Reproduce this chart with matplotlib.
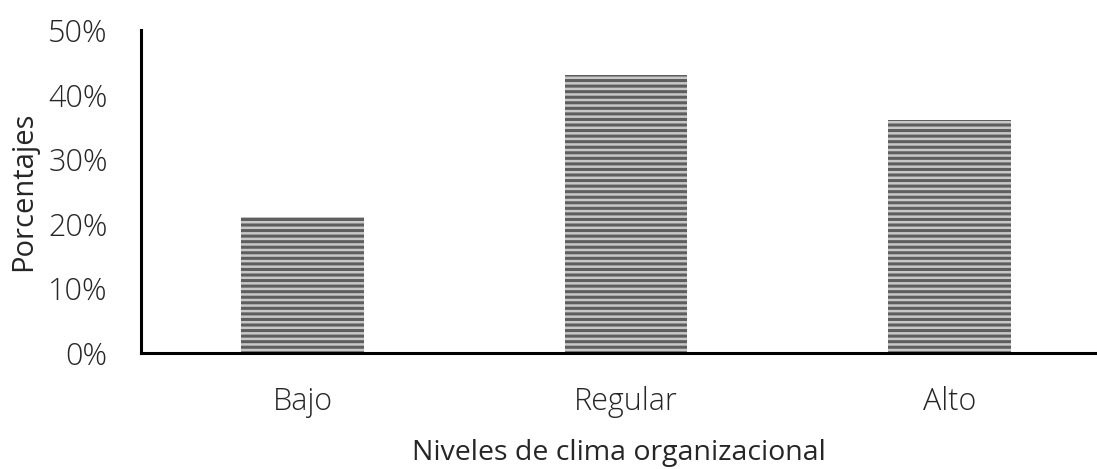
import numpy as np
import matplotlib
matplotlib.use("Agg")
import matplotlib.pyplot as plt

# data
categories = ["Bajo", "Regular", "Alto"]
values = [21, 43, 36]  # percent
yticks = [0, 10, 20, 30, 40, 50]

plt.rcParams['font.family'] = ['Open Sans', 'DejaVu Sans']
plt.rcParams['font.weight'] = 'light'
plt.rcParams['hatch.linewidth'] = 2.2

fig = plt.figure(figsize=(10.97, 4.69), dpi=100)
ax = fig.add_axes([0.1285, 0.2473, 1 - 0.1285, 0.936 - 0.2473])

x = np.arange(len(categories))
ax.bar(x, values, width=0.379, color='#c8c8c8', edgecolor='#5e5e5e',
       hatch='---', linewidth=0)

ax.set_ylim(0, 50)
ax.set_xlim(-0.5, 2.456)
ax.set_yticks(yticks)
ax.set_yticklabels([f"{v}%" for v in yticks])
ax.set_xticks(x)
ax.set_xticklabels(categories)
ax.tick_params(axis='both', length=0, labelsize=22, colors='#262626')
ax.tick_params(axis='y', pad=24)
ax.tick_params(axis='x', pad=24)

for s in ['top', 'right']:
    ax.spines[s].set_visible(False)
for s in ['left', 'bottom']:
    ax.spines[s].set_linewidth(2.2)
    ax.spines[s].set_color('black')

ax.set_ylabel("Porcentajes", fontsize=21, labelpad=7, color='#262626')
ax.set_xlabel("Niveles de clima organizacional", fontsize=20.5, labelpad=15,
              color='#262626')

fig.savefig("out.png", dpi=100)
